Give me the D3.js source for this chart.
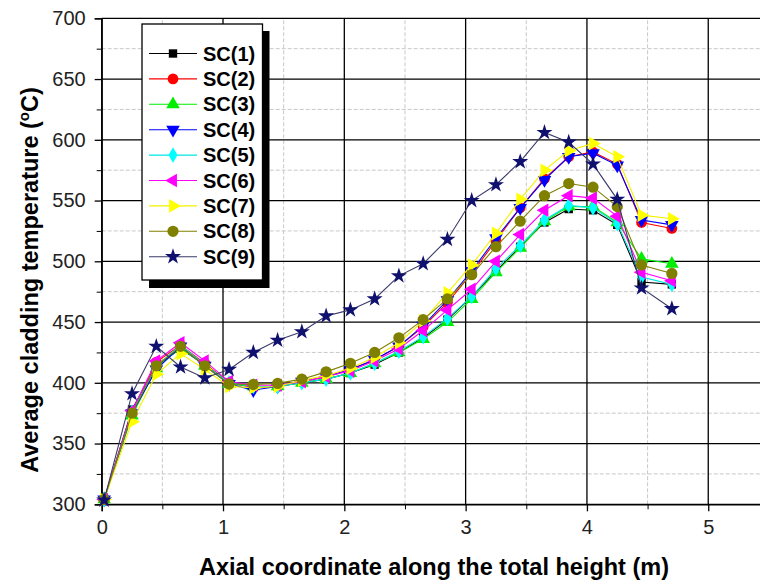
<!DOCTYPE html>
<html lang="en">
<head>
    <meta charset="UTF-8">
    <title>Average cladding temperature</title>
    <script src="https://d3js.org/d3.v7.min.js"></script>
    <style>
        *{ margin: 0; padding: 0; }
        body{ background: #fff; }
        text{ font-family: "Liberation Sans", Arial, sans-serif; }
        .tick-label{ font-size: 20px; fill: #222; }
        .title{ font-size: 23.5px; font-weight: bold; fill: #000; }
        .leg-text{ font-size: 20px; font-weight: bold; fill: #000; }
    </style>
</head>
<body>
    <div id="content"></div>
    <script>
        // axial positions (m)
        var xs = [0.02, 0.25, 0.45, 0.65, 0.85, 1.05, 1.25, 1.45, 1.65, 1.85, 2.05, 2.25,
                  2.45, 2.65, 2.85, 3.05, 3.25, 3.45, 3.65, 3.85, 4.05, 4.25, 4.45, 4.70];

        var names = ["SC(1)", "SC(2)", "SC(3)", "SC(4)", "SC(5)", "SC(6)", "SC(7)", "SC(8)", "SC(9)"];

        var sc1 = [304, 378, 414, 428, 415, 400, 397, 397, 400, 403, 408, 415, 425, 437, 452, 471, 492, 512, 532, 543, 542, 530, 483, 481];
        var sc2 = [304, 374, 417, 431, 416, 400, 396, 397, 401, 405, 411, 419, 430, 446, 466, 490, 517, 544, 568, 586, 590, 580, 532, 527];
        var sc3 = [304, 373, 412, 429, 414, 399, 397, 397, 400, 403, 408, 416, 425, 436, 450, 469, 491, 511, 533, 545, 545, 532, 502, 498];
        var sc4 = [304, 375, 411, 430, 414, 399, 394, 397, 401, 405, 411, 419, 430, 447, 468, 492, 519, 544, 567, 586, 589, 579, 534, 530];
        var sc5 = [304, 376, 414, 431, 415, 400, 397, 397, 400, 403, 408, 416, 426, 438, 453, 471, 494, 513, 534, 546, 544, 531, 487, 481];
        var sc6 = [304, 377, 418, 433, 418, 401, 398, 398, 401, 405, 410, 418, 428, 443, 460, 477, 500, 522, 542, 554, 552, 537, 491, 484];
        var sc7 = [304, 368, 407, 424, 411, 397, 396, 397, 402, 406, 412, 421, 433, 451, 474, 497, 523, 551, 575, 591, 597, 586, 538, 535];
        var sc8 = [304, 375, 414, 430, 414, 399, 398.6, 399.5, 403, 409, 416, 425, 437, 452, 469, 489, 512, 533, 554, 564, 561, 545, 497, 490];
        var sc9 = [303.5, 391, 430, 413, 404, 411, 425, 435, 442, 455, 460, 469, 488, 498, 518, 550, 563, 582, 606, 598, 580, 551, 478, 461];

        var series = [sc1, sc2, sc3, sc4, sc5, sc6, sc7, sc8, sc9];

        var xTicks = [0, 1, 2, 3, 4, 5];
        var yTicks = [300, 350, 400, 450, 500, 550, 600, 650, 700];

        var colors = ["#000000", "#ff0000", "#00ee00", "#0000ff", "#00ffff", "#ff00ff", "#ffff00", "#808000", "#10106e"];
        var lineColors = ["#000000", "#ff0000", "#00ee00", "#0000ff", "#00e5e5", "#ff00ff", "#f2f200", "#808000", "#3a3a6a"];
        // symbol type, rotation, size
        var shapes = [
            [d3.symbolSquare, 0, 70],
            [d3.symbolCircle, 0, 90],
            [d3.symbolTriangle, 0, 80],
            [d3.symbolTriangle, 180, 80],
            [d3.symbolDiamond, 0, 70],
            [d3.symbolTriangle, -90, 80],
            [d3.symbolTriangle, 90, 80],
            [d3.symbolCircle, 0, 100],
            [d3.symbolStar, 0, 80]
        ];

        var width = 760, height = 588;
        var svg = d3.select("#content").append("svg")
                .attr("width", width).attr("height", height);

        var xScale = d3.scaleLinear().domain([0, 5.5]).range([101.7, 768.9]);
        var yScale = d3.scaleLinear().domain([300, 700]).range([504.3, 18.3]);

        /* 网格 */
        var grid = svg.append("g");
        d3.range(0.5, 5.6, 1).forEach(function(v){
            grid.append("line").attr("x1", xScale(v)).attr("x2", xScale(v))
                .attr("y1", yScale(300)).attr("y2", yScale(700))
                .attr("stroke", "#c8c8c8").attr("stroke-dasharray", "4,2");
        });
        d3.range(325, 700, 50).forEach(function(v){
            grid.append("line").attr("x1", xScale(0)).attr("x2", width)
                .attr("y1", yScale(v)).attr("y2", yScale(v))
                .attr("stroke", "#c8c8c8").attr("stroke-dasharray", "4,2");
        });
        xTicks.forEach(function(v){
            grid.append("line").attr("x1", xScale(v)).attr("x2", xScale(v))
                .attr("y1", yScale(300)).attr("y2", yScale(700))
                .attr("stroke", "#000").attr("stroke-width", 1.3);
        });
        yTicks.forEach(function(v){
            grid.append("line").attr("x1", xScale(0)).attr("x2", width)
                .attr("y1", yScale(v)).attr("y2", yScale(v))
                .attr("stroke", "#000").attr("stroke-width", 1.3);
        });

        /* 坐标轴 */
        var xAxis = d3.axisBottom(xScale).tickValues(xTicks).tickSize(7).tickPadding(9)
                .tickFormat(d3.format("d"));
        var gx = svg.append("g").attr("transform", "translate(0," + yScale(300) + ")").call(xAxis);
        var xMinor = d3.axisBottom(xScale).tickValues(d3.range(0.5, 5.6, 1)).tickSize(5).tickFormat("");
        svg.append("g").attr("transform", "translate(0," + yScale(300) + ")").call(xMinor)
            .select(".domain").remove();

        var yAxis = d3.axisLeft(yScale).tickValues(yTicks).tickSize(7).tickPadding(9);
        var gy = svg.append("g").attr("transform", "translate(" + xScale(0) + ",0)").call(yAxis);
        var yMinor = d3.axisLeft(yScale).tickValues(d3.range(325, 700, 50)).tickSize(5).tickFormat("");
        svg.append("g").attr("transform", "translate(" + xScale(0) + ",0)").call(yMinor)
            .select(".domain").remove();

        [gx, gy].forEach(function(g){
            g.select(".domain").attr("stroke", "#000").attr("stroke-width", 1.3);
            g.selectAll(".tick line").attr("stroke", "#000").attr("stroke-width", 1.3);
            g.selectAll(".tick text").attr("class", "tick-label").attr("font-size", null)
                .attr("font-family", null);
        });

        /* 曲线 */
        var line = d3.line()
                .x(function(d, i){ return xScale(xs[i]); })
                .y(function(d){ return yScale(d); });

        series.forEach(function(s, k){
            svg.append("path").attr("d", line(s))
                .attr("fill", "none").attr("stroke", lineColors[k]).attr("stroke-width", 1.1);
            svg.append("g").selectAll("path").data(s).enter().append("path")
                .attr("d", d3.symbol().type(shapes[k][0]).size(shapes[k][2]))
                .attr("transform", function(d, i){
                    return "translate(" + xScale(xs[i]) + "," + yScale(d) + ") rotate(" + shapes[k][1] + ")";
                })
                .attr("fill", colors[k]);
        });

        /* 标题 */
        svg.append("text").attr("class", "title")
            .attr("x", 434).attr("y", 575).attr("text-anchor", "middle")
            .text("Axial coordinate along the total height (m)");
        var yt = svg.append("text").attr("class", "title")
            .attr("transform", "translate(38,280) rotate(-90)").attr("text-anchor", "middle");
        yt.append("tspan").text("Average cladding temperature (");
        yt.append("tspan").attr("dy", -9).attr("font-size", 15).text("o");
        yt.append("tspan").attr("dy", 9).text("C)");

        /* 图例 */
        var leg = svg.append("g");
        leg.append("rect").attr("x", 149).attr("y", 31).attr("width", 120.5).attr("height", 257)
            .attr("fill", "#000");
        leg.append("rect").attr("x", 142).attr("y", 24).attr("width", 120.5).attr("height", 256)
            .attr("fill", "#fff").attr("stroke", "#000").attr("stroke-width", 1.3);
        names.forEach(function(n, k){
            var ly = 53.5 + k * 25.4;
            leg.append("line").attr("x1", 149).attr("x2", 197).attr("y1", ly).attr("y2", ly)
                .attr("stroke", lineColors[k]).attr("stroke-width", 1.1);
            leg.append("path")
                .attr("d", d3.symbol().type(shapes[k][0]).size(shapes[k][2]))
                .attr("transform", "translate(173," + ly + ") rotate(" + shapes[k][1] + ")")
                .attr("fill", colors[k]);
            leg.append("text").attr("class", "leg-text")
                .attr("x", 203).attr("y", ly + 7).text(n);
        });
    </script>
</body>
</html>
